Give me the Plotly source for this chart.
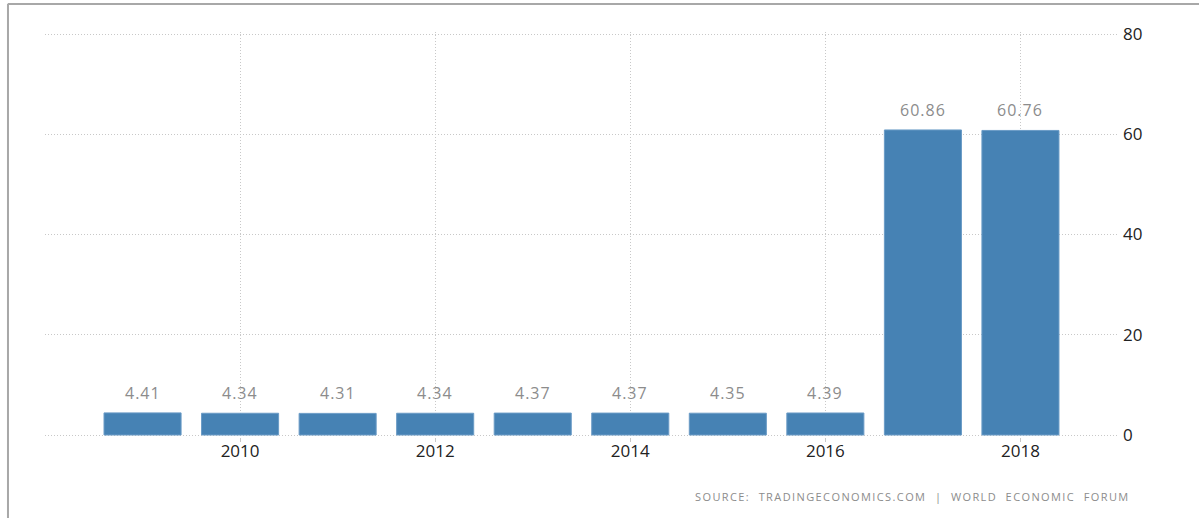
import plotly.graph_objects as go

# Annual values, 2009-2018
years = [2009, 2010, 2011, 2012, 2013, 2014, 2015, 2016, 2017, 2018]
values = [4.41, 4.34, 4.31, 4.34, 4.37, 4.37, 4.35, 4.39, 60.86, 60.76]
x_ticks = [2010, 2012, 2014, 2016, 2018]
y_ticks = [0, 20, 40, 60, 80]
source_text = "SOURCE:  TRADINGECONOMICS.COM  |  WORLD  ECONOMIC  FORUM"

BAR_COLOR = "#4682b4"
GRID_COLOR = "#c8c8c8"
GRID_DASH = "1px,2px"
FONT = "Open Sans"

fig = go.Figure()
fig.add_trace(go.Bar(
    x=years,
    y=values,
    width=0.79,
    marker=dict(color=BAR_COLOR, line=dict(color="#6a9bc6", width=1)),
    hoverinfo="x+y",
))

# value labels above each bar
for yr, v in zip(years, values):
    fig.add_annotation(
        x=yr, y=v, xref="x", yref="y",
        text=f"<span style='letter-spacing:1px'>{v:.2f}</span>",
        showarrow=False, yanchor="bottom", yshift=7,
        font=dict(family=FONT, size=16, color="#8c8c8c"),
    )

fig.add_annotation(
    x=1.0135, y=-0.147, xref="paper", yref="paper",
    xanchor="right", yanchor="middle",
    text=f"<span style='letter-spacing:1.4px'>{source_text}</span>",
    showarrow=False,
    font=dict(family=FONT, size=11, color="#8c8c8c"),
)

# outer frame: left and top edges
frame = dict(color="#a8a8a8", width=2)
fig.add_shape(type="line", xref="paper", yref="paper",
              x0=-0.0345, x1=-0.0345, y0=1.07, y1=-0.2, line=frame)
fig.add_shape(type="line", xref="paper", yref="paper",
              x0=-0.0345, x1=1.08, y0=1.0691, y1=1.0691, line=frame)

fig.update_layout(
    width=1199, height=518,
    margin=dict(l=45, r=81, t=32, b=81),
    paper_bgcolor="white",
    plot_bgcolor="white",
    showlegend=False,
    font=dict(family=FONT),
    xaxis=dict(
        range=[2008.0, 2019.0],
        tickmode="array", tickvals=x_ticks,
        ticktext=[str(t) for t in x_ticks],
        showgrid=True, gridcolor=GRID_COLOR, griddash=GRID_DASH, gridwidth=1,
        ticks="outside", ticklen=4, tickcolor=GRID_COLOR,
        ticklabelstandoff=-5,
        showline=False, zeroline=False,
        tickfont=dict(family=FONT, size=17, color="#222222"),
    ),
    yaxis=dict(
        range=[-0.4, 80.4],
        side="right",
        tickmode="array", tickvals=y_ticks,
        showgrid=True, gridcolor=GRID_COLOR, griddash=GRID_DASH, gridwidth=1,
        zeroline=False, showline=False,
        ticks="", ticklabelstandoff=4,
        tickfont=dict(family=FONT, size=17, color="#222222"),
    ),
)

fig.write_html("out.html")
